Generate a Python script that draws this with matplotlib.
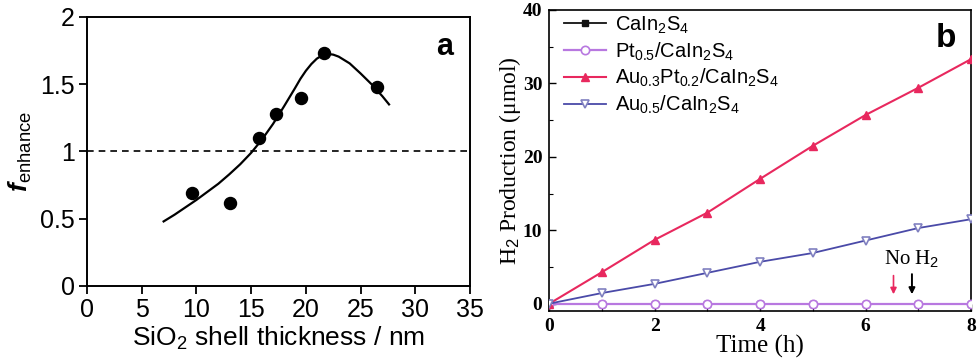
import matplotlib
matplotlib.use("Agg")
import matplotlib.pyplot as plt
from matplotlib.ticker import MultipleLocator

plt.rcParams["mathtext.fontset"] = "custom"
plt.rcParams["mathtext.rm"] = "Liberation Sans"
plt.rcParams["mathtext.it"] = "Liberation Sans:italic"
plt.rcParams["mathtext.bf"] = "Liberation Sans:bold"
plt.rcParams["mathtext.bfit"] = "Liberation Sans:italic:bold"

# ---- Panel a data ----
thickness = [9.6, 13.1, 15.7, 17.3, 19.6, 21.7, 26.5]
f_enhance = [0.69, 0.62, 1.10, 1.28, 1.40, 1.73, 1.48]
fit_x = [7.0, 8.0, 9.0, 10.0, 11.0, 12.0, 13.0, 14.0, 15.0, 16.0, 17.0, 18.0, 19.0, 19.5, 20.0, 20.5, 21.0, 21.5, 22.0, 22.5, 23.0, 24.0, 25.0, 26.0, 27.0, 27.6]
fit_y = [0.48, 0.53, 0.585, 0.64, 0.70, 0.76, 0.83, 0.905, 0.99, 1.09, 1.205, 1.335, 1.47, 1.54, 1.60, 1.65, 1.69, 1.715, 1.725, 1.72, 1.705, 1.655, 1.58, 1.50, 1.41, 1.35]

# ---- Panel b data ----
time_h = [0, 1, 2, 3, 4, 5, 6, 7, 8]
cain2s4 = [0, 0, 0, 0, 0, 0, 0, 0, 0]
pt05 = [0, 0, 0, 0, 0, 0, 0, 0, 0]
au03pt02 = [0, 4.3, 8.7, 12.4, 17.0, 21.5, 25.7, 29.4, 33.3]
au05 = [0, 1.45, 2.7, 4.2, 5.7, 6.9, 8.6, 10.3, 11.5]

fig = plt.figure(figsize=(9.8, 3.61), dpi=100)

# ---------------- Panel a ----------------
sans = "Liberation Sans"
axa = fig.add_axes([0.0888, 0.2078, 0.3908, 0.7452])
axa.plot(fit_x, fit_y, color="black", lw=1.6, zorder=2)
axa.scatter(thickness, f_enhance, s=75, color="black", zorder=3)
axa.axhline(1.0, color="black", lw=1.2, ls=(0, (4, 3)), zorder=1)
axa.set_xlim(0, 35)
axa.set_ylim(0, 2)
axa.set_xticks([0, 5, 10, 15, 20, 25, 30, 35])
axa.set_xticklabels(["0", "5", "10", "15", "20", "25", "30", "35"])
axa.set_yticks([0, 0.5, 1, 1.5, 2])
axa.set_yticklabels(["0", "0.5", "1", "1.5", "2"])
axa.tick_params(direction="out", length=6, width=1.3, labelsize=18, pad=3)
for lab in axa.get_xticklabels() + axa.get_yticklabels():
    lab.set_fontfamily(sans)
for sp in axa.spines.values():
    sp.set_linewidth(1.4)
axa.set_xlabel("SiO$_2$ shell thickness / nm", fontsize=19, fontfamily=sans, labelpad=2)
axa.set_ylabel(r"$\mathbfit{f}_{\mathrm{enhance}}$", fontsize=19, fontfamily=sans, labelpad=4)
axa.text(0.955, 0.89, "a", transform=axa.transAxes, fontsize=22, fontweight="bold",
         fontfamily=sans, ha="right", va="center")

# ---------------- Panel b ----------------
serif = "Liberation Serif"
axb = fig.add_axes([0.5605, 0.1385, 0.4303, 0.8338])
c_black = "#111111"
c_pt = "#b878e0"
c_red = "#e8285e"
c_blue = "#4a4aa8"
axb.plot(time_h, cain2s4, color=c_black, lw=1.3, marker="s", ms=4,
         label="CaIn$_2$S$_4$", zorder=2)
axb.plot(time_h, pt05, color=c_pt, lw=1.6, marker="o", ms=6, mfc="white",
         mec=c_pt, mew=1.2, label="Pt$_{0.5}$/CaIn$_2$S$_4$", zorder=3)
axb.plot(time_h, au03pt02, color=c_red, lw=1.5, marker="^", ms=6, mfc=c_red,
         mec=c_red, label="Au$_{0.3}$Pt$_{0.2}$/CaIn$_2$S$_4$", zorder=3)
axb.plot(time_h, au05, color=c_blue, lw=1.3, marker="v", ms=6, mfc="white",
         mec="#8080c0", mew=1.2, label="Au$_{0.5}$/CaIn$_2$S$_4$", zorder=3)
axb.set_xlim(0, 8)
axb.set_ylim(-1, 40)
axb.set_xticks([0, 2, 4, 6, 8])
axb.set_yticks([0, 10, 20, 30, 40])
axb.xaxis.set_minor_locator(MultipleLocator(1))
axb.yaxis.set_minor_locator(MultipleLocator(5))
axb.tick_params(which="major", direction="in", length=5, width=1.0, labelsize=14, pad=5)
axb.tick_params(which="minor", direction="in", length=3, width=0.8)
for lab in axb.get_xticklabels() + axb.get_yticklabels():
    lab.set_fontfamily(serif)
    lab.set_fontweight("bold")
for sp in axb.spines.values():
    sp.set_linewidth(1.2)
axb.set_xlabel("Time (h)", fontsize=18, fontfamily=serif, labelpad=0)
axb.set_ylabel("H$_2$ Production (μmol)", fontsize=17, fontfamily=serif, labelpad=0)
leg = axb.legend(loc="upper left", bbox_to_anchor=(0.02, 1.005), frameon=False,
                 handlelength=2.1, handletextpad=0.45, borderaxespad=0.0,
                 labelspacing=0.22, borderpad=0.3, prop={"family": sans, "size": 14.5})
axb.text(0.965, 0.905, "b", transform=axb.transAxes, fontsize=24, fontweight="bold",
         fontfamily=sans, ha="right", va="center")
# annotation arrows
axb.annotate("", xy=(6.53, 0.9), xytext=(6.53, 4.2),
             arrowprops=dict(arrowstyle="-|>", color=c_red, lw=1.2, mutation_scale=9))
axb.annotate("", xy=(6.88, 0.9), xytext=(6.88, 4.4),
             arrowprops=dict(arrowstyle="-|>", color="black", lw=1.4, mutation_scale=9))
axb.text(6.88, 4.6, "No H$_2$", fontsize=15, fontfamily=serif, ha="center", va="bottom")

fig.savefig("out.png", dpi=100)
